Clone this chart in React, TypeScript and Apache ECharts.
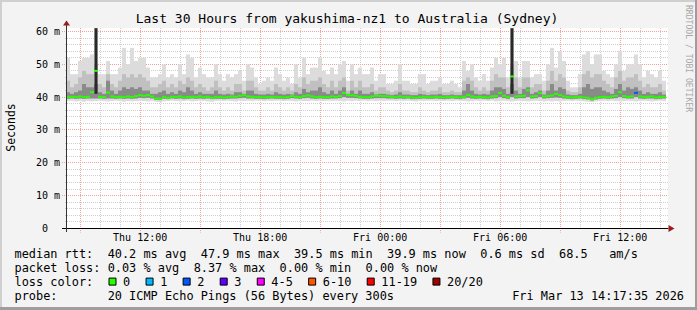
import React, { useEffect, useRef } from "react";
import * as echarts from "echarts";

// ---- time axis (hours since Thu 00:00) ----
const START_HOUR = 8 + 17 / 60 + 35 / 3600; // Thu 08:17:35
const SPAN_HOURS = 30;
const STEP_HOURS = 0.2; // one smoke column = 12 minutes
const Y_MAX = 61.05;

const X_LABEL_HOURS = [12, 18, 24, 30, 36];
const X_LABELS = ["Thu 12:00", "Thu 18:00", "Fri 00:00", "Fri 06:00", "Fri 12:00"];
const X_MAJOR_HOURS = [9, 12, 15, 18, 21, 24, 27, 30, 33, 36];
const X_MINOR_HOURS = [10, 11, 13, 14, 16, 17, 19, 20, 22, 23, 25, 26, 28, 29, 31, 32, 34, 35, 37, 38];
const Y_TICKS = [0, 10, 20, 30, 40, 50, 60];
const Y_MAJOR = [10, 20, 30, 40, 50, 60];
const Y_MINOR = [2, 4, 6, 8, 12, 14, 16, 18, 22, 24, 26, 28, 32, 34, 36, 38, 42, 44, 46, 48, 52, 54, 56, 58];

// ---- smoke (ms) per 12-minute step ----
const TOP = [
  52, 47, 47, 51, 52, 52, 53, 61, 47, 47,
  51, 47, 47, 49, 55, 50, 55, 51, 52, 52,
  49, 46, 46, 47, 50, 46, 47, 46, 50, 47,
  53, 52, 46, 49, 47, 46, 46, 50, 47, 45,
  47, 46, 47, 48, 45, 50, 49, 46, 44, 45,
  46, 45, 49, 47, 45, 46, 44, 50, 46, 52,
  47, 49, 49, 52, 48, 47, 49, 47, 50, 51,
  45, 50, 47, 49, 47, 47, 49, 45, 47, 47,
  44, 44, 45, 50, 45, 45, 44, 44, 47, 47,
  44, 45, 45, 46, 44, 44, 45, 44, 43, 51,
  48, 50, 46, 45, 47, 45, 49, 52, 50, 52,
  46, 61, 51, 46, 51, 51, 46, 47, 47, 45,
  50, 55, 49, 54, 51, 45, 43, 43, 47, 53,
  54, 50, 53, 53, 48, 47, 46, 50, 54, 48,
  50, 50, 53, 50, 46, 48, 47, 46, 48, 45,
];
const MID = [
  45, 43, 44, 46, 48, 47, 47, 50, 44, 43,
  47, 44, 43, 45, 47, 46, 47, 46, 47, 46,
  45, 43, 43, 44, 45, 43, 44, 43, 45, 44,
  46, 45, 43, 44, 43, 42, 43, 45, 43, 42,
  43, 42, 44, 44, 42, 45, 45, 43, 42, 42,
  43, 42, 44, 43, 42, 43, 42, 44, 43, 46,
  44, 45, 45, 46, 44, 43, 45, 43, 45, 46,
  42, 45, 43, 45, 43, 43, 44, 42, 43, 43,
  42, 41.5, 42, 44, 42, 42, 41.5, 41.5, 43, 42,
  41.5, 42, 42, 43, 41.5, 41.5, 42, 41.5, 41.5, 45,
  46, 45, 43, 42, 43, 42, 45, 47, 46, 46,
  43, 50, 46, 43, 46, 46, 43, 44, 44, 42,
  45, 48, 45, 47, 46, 42, 41.5, 41.5, 43, 47,
  48, 46, 47, 47, 45, 44, 43, 46, 48, 45,
  46, 46, 47, 45, 43, 44, 43, 43, 44, 42,
];
const INNER = [
  41.5, 41, 41.5, 42, 44, 43, 43, 44, 41.5, 41,
  45, 42, 41, 42, 43, 42.5, 43, 42.5, 43, 42,
  42, 41, 41, 41.5, 42, 41, 41.5, 41, 42, 41.5,
  43, 42, 41, 41.5, 41, 41, 41, 42, 41, 40.8,
  41, 40.8, 41.5, 41.5, 41, 42, 42, 41, 40.8, 40.8,
  41, 40.8, 41.5, 41, 40.8, 41, 40.8, 41.5, 41, 42.5,
  41.5, 42, 42, 43, 41.5, 41, 42, 41, 42, 43,
  41, 42, 41, 42, 41, 41, 41.5, 40.8, 41, 41,
  40.8, 40.6, 40.8, 41.5, 40.8, 40.8, 40.6, 40.6, 41, 40.8,
  40.6, 40.8, 40.8, 41, 40.6, 40.6, 40.8, 40.6, 40.6, 42,
  44, 42, 41, 40.8, 41, 40.8, 42, 43, 43, 42.5,
  41, 44, 42, 41, 42.5, 43, 41, 41.5, 42, 40.8,
  42, 44, 42, 43, 42.5, 40.8, 40.6, 40.6, 41, 43,
  44, 42.5, 43, 43, 42, 41.5, 41, 42.5, 44, 42,
  43, 42.5, 43, 42, 41, 41.5, 41, 41, 41.5, 40.8,
];
const LOW_OUTER = [
  38.8, 38.9, 38.7, 38.8, 38.6, 38.8, 38.7, 38.8, 38.9, 38.8,
  38.7, 38.8, 38.9, 38.8, 38.6, 38.8, 38.7, 38.8, 38.9, 38.8,
  38.7, 38.8, 38.6, 38.5, 38.7, 38.8, 38.9, 38.8, 38.7, 38.8,
  38.9, 38.7, 38.8, 38.9, 38.8, 38.7, 38.6, 38.8, 38.9, 38.8,
  38.9, 38.8, 38.7, 38.9, 38.8, 38.9, 38.8, 38.9, 38.9, 38.8,
  38.9, 38.8, 38.9, 38.9, 38.8, 38.9, 38.8, 38.7, 38.9, 38.8,
  38.8, 38.9, 38.8, 38.9, 38.8, 38.9, 38.8, 38.9, 38.8, 38.7,
  38.9, 38.8, 38.9, 38.8, 38.9, 38.8, 38.9, 38.8, 38.9, 38.8,
  38.9, 38.9, 38.8, 38.9, 38.8, 38.9, 38.8, 38.7, 38.9, 38.8,
  38.9, 38.9, 38.8, 38.9, 38.8, 38.9, 38.8, 38.9, 38.9, 38.8,
  38.7, 38.8, 38.9, 38.8, 38.9, 38.8, 38.9, 38.7, 38.8, 38.9,
  38.8, 38.7, 38.8, 38.9, 38.8, 38.7, 38.8, 38.9, 38.8, 38.7,
  38.8, 38.7, 38.8, 38.7, 38.8, 38.9, 38.8, 38.9, 38.8, 38.7,
  38.6, 38.5, 38.7, 38.8, 38.9, 38.8, 38.9, 38.8, 38.7, 38.8,
  38.9, 38.8, 38.7, 38.8, 38.9, 38.8, 38.7, 38.8, 38.9, 38.8,
];
const LOW_INNER = [
  39.5, 39.6, 39.5, 39.6, 39.5, 39.6, 39.6, 39.6, 39.6, 39.5,
  39.6, 39.6, 39.5, 39.6, 39.5, 39.6, 39.5, 39.6, 39.8, 39.7,
  39.8, 39.6, 39.2, 39.1, 39.5, 39.4, 39.6, 39.5, 39.6, 39.4,
  39.5, 39.6, 39.5, 39.6, 39.5, 39.6, 39.4, 39.5, 39.5, 39.4,
  39.5, 39.6, 39.6, 39.7, 39.8, 39.6, 39.6, 39.5, 39.5, 39.4,
  39.5, 39.6, 39.5, 39.5, 39.4, 39.5, 39.7, 39.6, 39.5, 39.7,
  39.8, 39.6, 39.5, 39.6, 39.5, 39.5, 39.6, 39.6, 39.7, 40.0,
  39.8, 39.8, 39.7, 39.6, 39.5, 39.5, 39.6, 39.7, 39.7, 39.7,
  39.6, 39.6, 39.5, 39.6, 39.5, 39.6, 39.4, 39.4, 39.5, 39.6,
  39.5, 39.5, 39.6, 39.5, 39.4, 39.5, 39.6, 39.5, 39.4, 39.6,
  39.8, 39.6, 39.5, 39.6, 39.5, 39.4, 39.6, 39.7, 40.0, 39.7,
  39.5, 40.0, 39.6, 39.7, 39.7, 40.0, 39.6, 39.7, 40.0, 39.6,
  39.7, 39.8, 39.9, 39.8, 39.6, 39.5, 39.4, 39.5, 39.6, 39.4,
  39.3, 39.0, 39.3, 39.5, 39.6, 39.5, 39.6, 39.7, 40.0, 39.7,
  39.6, 39.6, 40.0, 39.6, 39.5, 39.6, 39.6, 39.4, 39.5, 39.6,
];
const MEDIAN = [
  40.0, 40.1, 40.0, 40.2, 40.0, 40.1, 41.5, 48.0, 40.1, 40.0,
  41.4, 40.2, 40.0, 40.1, 40.0, 40.2, 40.0, 40.3, 40.6, 40.4,
  40.6, 40.2, 39.6, 39.5, 40.0, 39.8, 40.1, 40.0, 40.2, 39.9,
  40.0, 40.1, 40.0, 40.2, 40.0, 40.1, 39.8, 40.0, 40.0, 39.9,
  40.0, 40.2, 40.1, 40.4, 40.6, 40.2, 40.1, 40.0, 40.0, 39.9,
  40.0, 40.1, 40.0, 40.0, 39.9, 40.0, 40.3, 40.1, 40.0, 40.3,
  40.5, 40.2, 40.0, 40.1, 40.0, 40.0, 40.2, 40.1, 40.3, 41.3,
  40.6, 40.6, 40.4, 40.1, 40.0, 40.0, 40.2, 40.4, 40.4, 40.3,
  40.2, 40.1, 40.0, 40.2, 40.0, 40.1, 39.9, 39.8, 40.0, 40.1,
  40.0, 40.0, 40.1, 40.0, 39.9, 40.0, 40.1, 40.0, 39.9, 40.1,
  40.6, 40.2, 40.0, 40.1, 40.0, 39.9, 40.2, 40.3, 41.3, 40.4,
  40.0, 46.3, 40.2, 40.3, 40.4, 42.1, 40.2, 40.3, 41.3, 40.2,
  40.3, 40.5, 41.0, 40.6, 40.2, 40.0, 39.9, 40.0, 40.1, 39.9,
  39.8, 39.4, 39.8, 40.0, 40.1, 40.0, 40.2, 40.4, 41.5, 40.3,
  40.1, 40.2, 41.3, 40.2, 40.0, 40.1, 40.2, 39.9, 40.0, 40.1,
];
// [step, low ms, high ms] of the near-black columns
const SPIKES = [
  [7, 41, 61],
  [111, 41, 61],
];
// [step, lost pings out of 20]
const LOSS_EVENTS = [[142, 2]];

const LOSS_LABELS = ["0", "1", "2", "3", "4-5", "6-10", "11-19", "20/20"];
const LOSS_COLORS = ["#26ff00", "#00b8ff", "#0059ff", "#5e00ff", "#ff00ff", "#ff5500", "#ff0000", "#a10000"];

const RTT_ROW = [["median rtt:", 0], ["40.2 ms avg", 13], ["47.9 ms max", 26], ["39.5 ms min", 39], ["39.9 ms now", 52], ["0.6 ms sd", 65], ["68.5", 76], ["am/s", 83]];
const LOSS_ROW = [["packet loss:", 0], ["0.03 % avg", 13], ["8.37 % max", 25], ["0.00 % min", 37], ["0.00 % now", 49]];
const PROBE_ROW = [["probe:", 0], ["20 ICMP Echo Pings (56 Bytes) every 300s", 13]];
const TITLE = "Last 30 Hours from yakushima-nz1 to Australia (Sydney)";
const DATE_TEXT = "Fri Mar 13 14:17:35 2026";

function lossBucket(n: number) {
  if (n <= 3) return n;
  if (n <= 5) return 4;
  if (n <= 10) return 5;
  if (n <= 19) return 6;
  return 7;
}

export default function App() {
  const ref = useRef<HTMLDivElement>(null);

  useEffect(() => {
    if (!ref.current) return;
    const chart = echarts.init(ref.current, undefined, { renderer: "svg" });

    const stepT = (i: number) => START_HOUR + STEP_HOURS * (i + 0.5);
    const smokeData = TOP.map((top, i) => [stepT(i), LOW_OUTER[i], top, LOW_INNER[i], MID[i], INNER[i]]);
    const spikeData = SPIKES.map((s) => [stepT(s[0]), s[1], s[2]]);
    const medianData = MEDIAN.map((m, i) => {
      const ev = LOSS_EVENTS.find((e) => e[0] === i);
      return [stepT(i), m, lossBucket(ev ? ev[1] : 0)];
    });
    const gridData: number[][] = [];
    X_MINOR_HOURS.forEach((h) => gridData.push([0, h]));
    Y_MINOR.forEach((v) => gridData.push([2, v]));
    X_MAJOR_HOURS.forEach((h) => gridData.push([1, h]));
    Y_MAJOR.forEach((v) => gridData.push([3, v]));

    const colX = (api: any, t: number) => {
      const a = api.coord([t - STEP_HOURS / 2, 0])[0];
      const b = api.coord([t + STEP_HOURS / 2, 0])[0];
      return [a, b];
    };

    const LX = 14.5;
    const CW = 7.165;
    const rowY = [254.2, 268, 281.8, 295.5];
    const txt = (text: string, x: number, y: number, extra: any = {}) => ({
      type: "text",
      z: 20,
      x,
      y,
      ...extra.el,
      style: {
        text,
        x: 0,
        y: 0,
        fill: "#000",
        fontFamily: "DejaVu Sans Mono",
        fontSize: 11.9,
        align: "left",
        verticalAlign: "middle",
        textAlign: "left",
        textVerticalAlign: "middle",
        ...extra.style,
      },
    });

    const graphics: any[] = [];
    // canvas
    graphics.push({ type: "rect", z: -10, shape: { x: 66, y: 28, width: 602, height: 200.5 }, style: { fill: "#ffffff" } });
    // frame
    graphics.push({ type: "rect", z: 30, shape: { x: 0, y: 0, width: 697, height: 2 }, style: { fill: "#cfcfcf" } });
    graphics.push({ type: "rect", z: 30, shape: { x: 0, y: 0, width: 2, height: 310 }, style: { fill: "#cfcfcf" } });
    graphics.push({ type: "rect", z: 31, shape: { x: 0, y: 307, width: 697, height: 3 }, style: { fill: "#9e9e9e" } });
    graphics.push({ type: "rect", z: 31, shape: { x: 695, y: 0, width: 2, height: 310 }, style: { fill: "#9e9e9e" } });
    // axis extensions and arrows
    graphics.push({ type: "line", z: 20, shape: { x1: 62, y1: 228.5, x2: 668.5, y2: 228.5 }, style: { stroke: "#000", lineWidth: 1 } });
    graphics.push({ type: "line", z: 20, shape: { x1: 66.5, y1: 24, x2: 66.5, y2: 232 }, style: { stroke: "#333", lineWidth: 1 } });
    graphics.push({ type: "polygon", z: 21, shape: { points: [[63, 25.5], [70, 25.5], [66.5, 20.5]] }, style: { fill: "#9a1c1c" } });
    graphics.push({ type: "polygon", z: 21, shape: { points: [[668.5, 225], [668.5, 232], [674.5, 228.5]] }, style: { fill: "#9a1c1c" } });
    // title
    graphics.push(txt(TITLE, 347, 18.6, { style: { fontSize: 13, align: "center", textAlign: "center" } }));
    // y axis name
    graphics.push(txt("Seconds", 11, 127.5, { el: { rotation: Math.PI / 2 }, style: { fontSize: 11.5, align: "center", textAlign: "center" } }));
    // side credit
    graphics.push(txt("RRDTOOL / TOBI OETIKER", 688.5, 58.5, { el: { rotation: -Math.PI / 2 }, style: { fontSize: 8.1, fill: "#a8a8a8", align: "center", textAlign: "center" } }));
    // legend rows
    RTT_ROW.forEach(([t, i]) => graphics.push(txt(t as string, LX + (i as number) * CW, rowY[0])));
    LOSS_ROW.forEach(([t, i]) => graphics.push(txt(t as string, LX + (i as number) * CW, rowY[1])));
    graphics.push(txt("loss color:", LX, rowY[2]));
    let bx = 108.5;
    LOSS_LABELS.forEach((lab, k) => {
      graphics.push({ type: "rect", z: 20, shape: { x: bx + 0.5, y: rowY[2] - 3.7, width: 7, height: 7 }, style: { fill: LOSS_COLORS[k], stroke: "#000", lineWidth: 1 } });
      const lx = bx + 14.6;
      graphics.push(txt(lab, lx, rowY[2]));
      bx = lx + lab.length * CW + 15.3;
    });
    PROBE_ROW.forEach(([t, i]) => graphics.push(txt(t as string, LX + (i as number) * CW, rowY[3])));
    graphics.push(txt(DATE_TEXT, 684, rowY[3], { style: { align: "right", textAlign: "right" } }));

    const option: any = {
      animation: false,
      backgroundColor: "#f3f3f3",
      grid: { left: 66, top: 28, width: 600, height: 200.5, show: false },
      xAxis: {
        type: "value",
        min: START_HOUR,
        max: START_HOUR + SPAN_HOURS,
        axisLine: { show: true, lineStyle: { color: "#000", width: 1 } },
        axisTick: { show: false },
        splitLine: { show: false },
        axisLabel: {
          customValues: X_LABEL_HOURS,
          formatter: (v: number) => {
            const k = X_LABEL_HOURS.indexOf(v);
            return k >= 0 ? X_LABELS[k] : "";
          },
          fontFamily: "DejaVu Sans Mono",
          fontSize: 10,
          color: "#000",
          margin: 4,
        },
      },
      yAxis: {
        type: "value",
        min: 0,
        max: Y_MAX,
        interval: 10,
        axisLine: { show: true, lineStyle: { color: "#333", width: 1 } },
        axisTick: { show: false },
        splitLine: { show: false },
        axisLabel: {
          customValues: Y_TICKS,
          formatter: (v: number) => (v === 0 ? "{z|0}" : v % 10 === 0 ? `${v} m` : ""),
          fontFamily: "DejaVu Sans Mono",
          fontSize: 10,
          color: "#000",
          margin: 6,
          rich: { z: { fontFamily: "DejaVu Sans Mono", fontSize: 10, color: "#000", padding: [0, 12, 0, 0] } },
        },
      },
      series: [
        {
          type: "custom",
          name: "grid",
          data: gridData,
          silent: true,
          renderItem: (params: any, api: any) => {
            const kind = api.value(0);
            const v = api.value(1);
            const major = kind === 1 || kind === 3;
            const stroke = major ? "#f2a0a0" : "#cfcfcf";
            if (kind < 2) {
              const pt = api.coord([v, Y_MAX]);
              const pb = api.coord([v, 0]);
              const x = Math.round(pt[0] - 0.5) + 0.5;
              return { type: "line", shape: { x1: x, y1: pt[1], x2: x, y2: pb[1] + (major ? 4 : 0) }, style: { stroke, lineWidth: 1, lineDash: [1, 1] } };
            }
            const pl = api.coord([START_HOUR, v]);
            const pr = api.coord([START_HOUR + SPAN_HOURS, v]);
            const y = Math.round(pl[1] - 0.5) + 0.5;
            return { type: "line", shape: { x1: pl[0] - (major ? 4 : 1), y1: y, x2: pr[0] + 2, y2: y }, style: { stroke, lineWidth: 1, lineDash: [1, 1] } };
          },
        },
        {
          type: "custom",
          name: "smoke",
          data: smokeData,
          renderItem: (params: any, api: any) => {
            const t = api.value(0);
            const [x0, x1] = colX(api, t);
            const band = (lo: number, hi: number, fill: string) => {
              const yHi = api.coord([t, hi])[1];
              const yLo = api.coord([t, lo])[1];
              return { type: "rect", shape: { x: x0, y: yHi, width: x1 - x0, height: yLo - yHi }, style: { fill } };
            };
            return {
              type: "group",
              children: [
                band(api.value(1), api.value(2), "#dcdcdc"),
                band(api.value(3), api.value(4), "#c0c0c0"),
                band(api.value(3), api.value(5), "#8a8a8a"),
              ],
            };
          },
        },
        {
          type: "custom",
          name: "spikes",
          data: spikeData,
          renderItem: (params: any, api: any) => {
            const t = api.value(0);
            const [x0, x1] = colX(api, t);
            const yHi = api.coord([t, api.value(2)])[1];
            const yLo = api.coord([t, api.value(1)])[1];
            return { type: "rect", shape: { x: x0 + 0.5, y: yHi, width: x1 - x0 - 1, height: yLo - yHi }, style: { fill: "#2a2a2a" } };
          },
        },
        {
          type: "custom",
          name: "median",
          data: medianData,
          renderItem: (params: any, api: any) => {
            const t = api.value(0);
            const [x0, x1] = colX(api, t);
            const y = api.coord([t, api.value(1)])[1];
            return { type: "rect", shape: { x: x0, y: y - 1, width: x1 - x0, height: 2 }, style: { fill: LOSS_COLORS[api.value(2)] } };
          },
        },
      ],
      graphic: graphics,
    };

    chart.setOption(option);
    return () => chart.dispose();
  }, []);

  return (
    <div
      ref={ref}
      style={{ position: "fixed", left: 0, top: 0, width: 697, height: 310 }}
    />
  );
}
